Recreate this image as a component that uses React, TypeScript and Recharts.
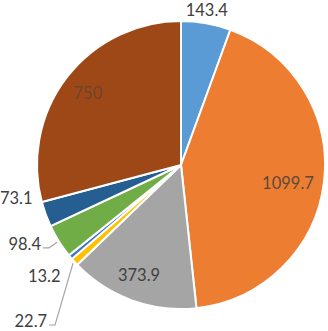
import React from "react";
import { PieChart, Pie, Cell } from "recharts";

const categories = ["A", "B", "C", "D", "E", "F", "G", "H"];
const values = [143.4, 1099.7, 373.9, 22.7, 13.2, 98.4, 73.1, 750];
const valueLabels = ["143.4", "1099.7", "373.9", "22.7", "13.2", "98.4", "73.1", "750"];
const colors = ["#5B9BD5", "#ED7D31", "#A5A5A5", "#FFC000", "#4472C4", "#70AD47", "#255E91", "#9E4818"];

// label placement: radial distance (px from center, relative to outer radius) and angle shift (deg)
const labelRadiusDelta = [13.5, -35.5, -26.3, 72.5, 32, 31, 24, -26.4];
const labelAngleShift = [0.6, -2.6, -0.9, 3.8, -0.8, -5.2, -8.7, -0.1];
const labelLeader = [false, false, false, true, false, true, false, false];
const labelOpacity = [1, 0.85, 1, 1, 1, 1, 1, 0.55];

const data = categories.map((c, i) => ({ name: c, value: values[i], label: valueLabels[i] }));

const RAD = Math.PI / 180;
const FONT_SIZE = 16.5;

const renderLabel = (props: any) => {
  const { cx, cy, midAngle, outerRadius, index } = props;
  const r = outerRadius + labelRadiusDelta[index];
  const a = midAngle + labelAngleShift[index];
  const x = cx + r * Math.cos(-a * RAD);
  const y = cy + r * Math.sin(-a * RAD);
  const text = valueLabels[index];
  const digits = text.replace(".", "").length;
  const hasDot = text.includes(".");
  const halfW = (digits * 0.57 + (hasDot ? 0.25 : 0)) * FONT_SIZE / 2;
  let leader = null;
  if (labelLeader[index]) {
    const sx = x + halfW + 2;
    const sy = y + 4;
    const mx = sx + 6;
    const ex = cx + (outerRadius + 2) * Math.cos(-midAngle * RAD);
    const ey = cy + (outerRadius + 2) * Math.sin(-midAngle * RAD);
    leader = (
      <polyline
        points={`${sx},${sy} ${mx},${sy} ${ex},${ey}`}
        fill="none"
        stroke="#A6A6A6"
        strokeWidth={1.2}
      />
    );
  }
  return (
    <g key={`lbl-${index}`}>
      {leader}
      <text
        x={x}
        y={y}
        textAnchor="middle"
        dominantBaseline="central"
        fill="#404040"
        fillOpacity={labelOpacity[index]}
        fontSize={FONT_SIZE}
        fontFamily="Lato, 'Liberation Sans', sans-serif"
      >
        {text}
      </text>
    </g>
  );
};

export default function App() {
  return (
    <div style={{ position: "fixed", left: 0, top: 0, width: 328, height: 331, background: "#fff" }}>
      <PieChart width={328} height={331} margin={{ top: 0, right: 0, bottom: 0, left: 0 }}>
        <Pie
          data={data}
          dataKey="value"
          nameKey="name"
          cx={181}
          cy={165}
          outerRadius={144}
          startAngle={90}
          endAngle={-270}
          stroke="#FFFFFF"
          strokeWidth={2}
          label={renderLabel}
          labelLine={false}
          isAnimationActive={false}
        >
          {data.map((d, i) => (
            <Cell key={d.name} fill={colors[i]} />
          ))}
        </Pie>
      </PieChart>
    </div>
  );
}
